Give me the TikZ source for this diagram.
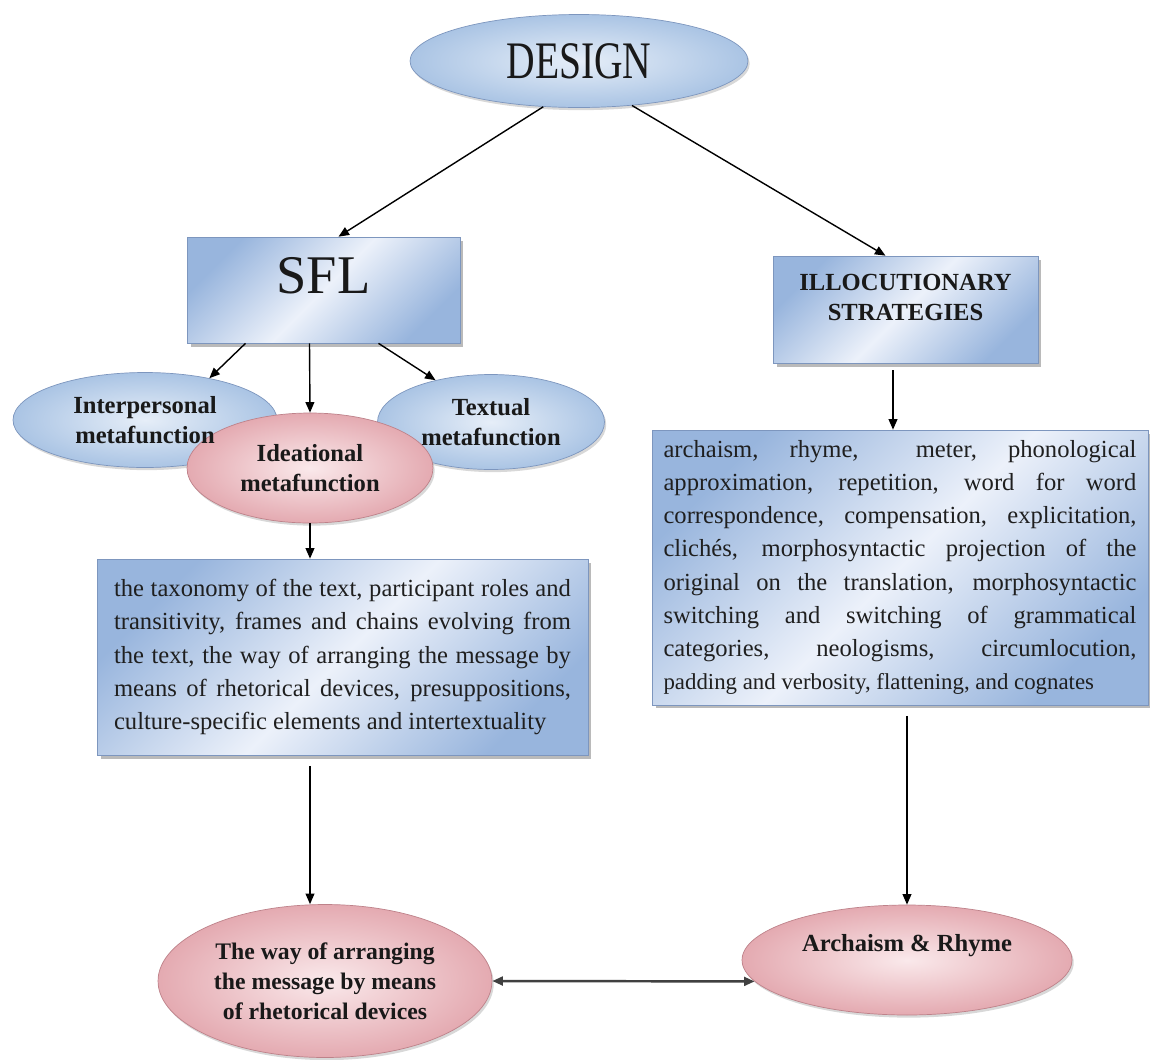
\documentclass[tikz,border=0pt]{standalone}
\usepackage{fontspec}
\setmainfont{Liberation Serif}
\newfontfamily\narrowserif[FakeStretch=0.75]{Liberation Serif}
\usetikzlibrary{shapes.geometric, arrows.meta, shadows, calc}

\definecolor{boxdark}{RGB}{152,181,221}
\definecolor{boxlight}{RGB}{236,241,250}
\definecolor{boxedge}{RGB}{125,150,190}
\definecolor{bluein}{RGB}{230,238,248}
\definecolor{blueout}{RGB}{170,196,228}
\definecolor{pinkin}{RGB}{250,233,235}
\definecolor{pinkout}{RGB}{228,170,177}
\definecolor{pinkedge}{RGB}{190,130,138}

\hyphenpenalty=10000
\exhyphenpenalty=10000

\begin{document}
\begin{tikzpicture}[x=0.02cm, y=-0.02cm,
  arr/.style={-{Triangle[length=6pt,width=5pt]}, line width=.8pt},
  dblarr/.style={{Triangle[length=6pt,width=5pt]}-{Triangle[length=6pt,width=5pt]}, line width=1.4pt, draw=black!75},
  box/.style={rectangle, draw=boxedge, left color=boxdark, right color=boxdark, middle color=boxlight, shading angle=45,
    drop shadow={shadow xshift=2pt, shadow yshift=-2pt, fill=black!45, opacity=.6}},
  blueell/.style={ellipse, draw=boxedge, inner color=bluein, outer color=blueout, inner sep=0pt,
    drop shadow={shadow xshift=1pt, shadow yshift=-1.5pt, fill=black!30, opacity=.5}},
  pinkell/.style={ellipse, draw=pinkedge, inner color=pinkin, outer color=pinkout, inner sep=0pt,
    drop shadow={shadow xshift=1pt, shadow yshift=-1.5pt, fill=black!30, opacity=.5}},
  lbl/.style={font=\fontsize{14}{17}\selectfont\bfseries, align=center, text=black!90},
  para/.style={font=\fontsize{14}{18.9}\selectfont, align=justify, text=black!88}]

  \fill[white] (0,0) rectangle (1150,1059);
  \useasboundingbox (0,0) rectangle (1150,1059);

  \node[blueell, minimum width=6.76cm, minimum height=1.86cm, text=black!90, font=\narrowserif\fontsize{30}{32}\selectfont] (design) at (579,61) {DESIGN};

  \node[box, minimum width=5.46cm, minimum height=2.12cm, text depth=17pt, text=black!90, font=\fontsize{31}{33}\selectfont] (sfl) at (323.5,290) {SFL};
  \node[box, lbl, minimum width=5.3cm, minimum height=2.14cm, text depth=14pt] (illoc) at (905.5,309.5) {ILLOCUTIONARY\\STRATEGIES};

  \node[blueell, minimum width=5.28cm, minimum height=1.9cm] (inter) at (145,420) {};
  \node[blueell, minimum width=4.54cm, minimum height=1.9cm] (textual) at (491,422) {};
  \node[pinkell, lbl, minimum width=4.92cm, minimum height=2.2cm] (idea) at (310,468) {Ideational\\metafunction};
  \node[lbl] (intertxt) at (inter) {Interpersonal\\metafunction};
  \node[lbl] (texttxt) at (textual) {Textual\\metafunction};

  \node[box, para, text width=9.14cm, minimum width=9.82cm, minimum height=3.92cm] (lbox) at (342.5,657)
    {the taxonomy of the text, participant roles and\linebreak
     transitivity, frames and chains evolving from\linebreak
     the text, the way of arranging the message by\linebreak
     means of rhetorical devices, presuppositions,\linebreak
     culture-specific elements and intertextuality};

  \node[box, para, text width=9.46cm, minimum width=9.92cm, minimum height=5.5cm] (rbox) at (900,567.5)
    {archaism, rhyme, \ meter, phonological\linebreak
     approximation, repetition, word for word\linebreak
     correspondence, compensation, explicitation,\linebreak
     clichés, morphosyntactic projection of the\linebreak
     original on the translation, morphosyntactic\linebreak
     switching and switching of grammatical\linebreak
     categories, neologisms, circumlocution,\linebreak
     {\fontsize{13}{18.9}\selectfont padding and verbosity, flattening, and cognates}};

  \node[pinkell, lbl, font=\fontsize{13.5}{17}\selectfont\bfseries, minimum width=6.68cm, minimum height=3.06cm] (way) at (325,981)
    {The way of arranging\\the message by means\\of rhetorical devices};
  \node[pinkell, lbl, text depth=19.5pt, minimum width=6.6cm, minimum height=2.2cm] (arch) at (907,960) {Archaism \& Rhyme};

  \draw[arr] (design.232) -- ($(sfl.north)+(15,0)$);
  \draw[arr] (design.320) -- ($(illoc.north)+(-20,0)$);
  \draw[arr] ($(sfl.south)+(-78,0)$) -- (inter.33);
  \draw[arr] ($(sfl.south)+(-14,0)$) -- (idea.north);
  \draw[arr] ($(sfl.south)+(55,0)$) -- (textual.143);
  \draw[arr] (idea.south) -- (idea.south |- lbox.north);
  \draw[arr, shorten <=4pt] (illoc.south -| 893,0) -- (rbox.north -| 893,0);
  \draw[arr, shorten <=6pt] (lbox.south -| 310,0) -- (way.north -| 310,0);
  \draw[arr, shorten <=6pt] (rbox.south -| arch.north) -- (arch.north);
  \draw[dblarr] (way.east) -- (arch.188);
\end{tikzpicture}
\end{document}
